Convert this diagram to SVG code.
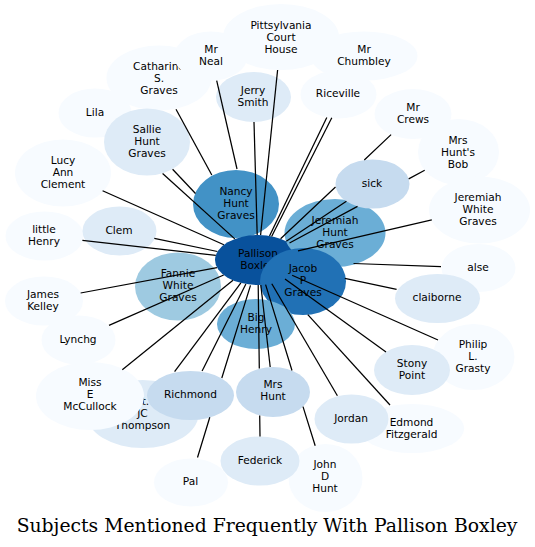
<svg xmlns="http://www.w3.org/2000/svg" width="535" height="547" viewBox="0 0 535 547">
<style>
.c0{fill:#f7fbff}.c1{fill:#deebf7}.c2{fill:#c6dbef}.c3{fill:#9ecae1}.c4{fill:#6baed6}.c5{fill:#4292c6}.c6{fill:#2171b5}.c7{fill:#08519c}
text{font-family:"DejaVu Sans",sans-serif;font-size:10.6px;text-anchor:middle;fill:#000}
.e{stroke:#000;stroke-width:1.25;fill:none}
.title{font-family:"DejaVu Serif",serif;font-size:18.8px}
</style>
<rect width="535" height="547" fill="#fff"/>
<g id="n-pitts"><ellipse class="c0" cx="281" cy="37" rx="58" ry="33"/><text x="281" y="28.8">Pittsylvania</text><text x="281" y="40.8">Court</text><text x="281" y="52.8">House</text></g>
<g id="n-chumbley"><ellipse class="c0" cx="364" cy="56" rx="53.5" ry="24.5"/><text x="364" y="52.8">Mr</text><text x="364" y="64.8">Chumbley</text></g>
<g id="n-riceville"><ellipse class="c0" cx="338.5" cy="94.5" rx="38" ry="24"/><text x="338" y="96.8">Riceville</text></g>
<g id="n-crews"><ellipse class="c0" cx="413" cy="114" rx="38.5" ry="25"/><text x="413" y="110.8">Mr</text><text x="413" y="122.8">Crews</text></g>
<g id="n-bob"><ellipse class="c0" cx="458.5" cy="152" rx="40.5" ry="33"/><text x="458" y="143.8">Mrs</text><text x="458" y="155.8">Hunt's</text><text x="458" y="167.8">Bob</text></g>
<g id="n-jwg"><ellipse class="c0" cx="479.5" cy="210" rx="50.5" ry="33.5"/><text x="478" y="200.8">Jeremiah</text><text x="478" y="212.8">White</text><text x="478" y="224.8">Graves</text></g>
<g id="n-alse"><ellipse class="c0" cx="478.5" cy="268" rx="37" ry="24"/><text x="478" y="270.8">alse</text></g>
<g id="n-philip"><ellipse class="c0" cx="473.5" cy="357" rx="41" ry="33"/><text x="473" y="347.8">Philip</text><text x="473" y="359.8">L.</text><text x="473" y="371.8">Grasty</text></g>
<g id="n-edmond"><ellipse class="c0" cx="412" cy="428.5" rx="52" ry="24.5"/><text x="411.5" y="425.8">Edmond</text><text x="411.5" y="437.8">Fitzgerald</text></g>
<g id="n-john"><ellipse class="c0" cx="325.5" cy="478" rx="37" ry="34"/><text x="325" y="468.3">John</text><text x="325" y="480.3">D</text><text x="325" y="492.3">Hunt</text></g>
<g id="n-pal"><ellipse class="c0" cx="191" cy="482.5" rx="37" ry="24"/><text x="190.5" y="484.8">Pal</text></g>
<g id="n-thompson"><ellipse class="c1" cx="142.5" cy="414" rx="56" ry="34"/><text x="142.5" y="404.8">Lt.</text><text x="142.5" y="416.8">JC</text><text x="142.5" y="428.8">Thompson</text></g>
<g id="n-mccullock"><ellipse class="c0" cx="90" cy="396" rx="54" ry="34"/><text x="90" y="386.3">Miss</text><text x="90" y="398.3">E</text><text x="90" y="410.3">McCullock</text></g>
<g id="n-lynchg"><ellipse class="c0" cx="78.5" cy="340" rx="37" ry="24.5"/><text x="78" y="342.8">Lynchg</text></g>
<g id="n-james"><ellipse class="c0" cx="44" cy="301" rx="39" ry="24.5"/><text x="43" y="297.8">James</text><text x="43" y="309.8">Kelley</text></g>
<g id="n-littlehenry"><ellipse class="c0" cx="44.5" cy="236" rx="39" ry="24.5"/><text x="44" y="232.8">little</text><text x="44" y="244.8">Henry</text></g>
<g id="n-lucy"><ellipse class="c0" cx="63" cy="173" rx="48" ry="33.5"/><text x="63" y="163.8">Lucy</text><text x="63" y="175.8">Ann</text><text x="63" y="187.8">Clement</text></g>
<g id="n-lila"><ellipse class="c0" cx="95" cy="113" rx="36.5" ry="24.5"/><text x="95" y="115.8">Lila</text></g>
<g id="n-catharine"><ellipse class="c0" cx="159" cy="78" rx="52.5" ry="32.5"/><text x="159" y="69.8">Catharine</text><text x="159" y="81.8">S.</text><text x="159" y="93.8">Graves</text></g>
<g id="n-neal"><ellipse class="c0" cx="211" cy="56" rx="36.5" ry="24.5"/><text x="211" y="52.8">Mr</text><text x="211" y="64.8">Neal</text></g>
<g id="n-jerry"><ellipse class="c1" cx="253.5" cy="97" rx="37.5" ry="25"/><text x="253" y="93.8">Jerry</text><text x="253" y="105.8">Smith</text></g>
<g id="n-sallie"><ellipse class="c1" cx="147" cy="142" rx="43" ry="33.5"/><text x="147" y="132.8">Sallie</text><text x="147" y="144.8">Hunt</text><text x="147" y="156.8">Graves</text></g>
<g id="n-clem"><ellipse class="c1" cx="119.5" cy="231" rx="37" ry="24.5"/><text x="119" y="233.8">Clem</text></g>
<g id="n-fannie"><ellipse class="c3" cx="178" cy="286.5" rx="43" ry="34"/><text x="178" y="277.3">Fannie</text><text x="178" y="289.3">White</text><text x="178" y="301.3">Graves</text></g>
<g id="n-nancy"><ellipse class="c5" cx="236" cy="204" rx="43" ry="34"/><text x="236" y="195.3">Nancy</text><text x="236" y="207.3">Hunt</text><text x="236" y="219.3">Graves</text></g>
<g id="n-pallison"><ellipse class="c7" cx="258" cy="260" rx="43" ry="25"/><text x="258" y="257.3">Pallison</text><text x="258" y="269.3">Boxley</text></g>
<g id="n-jhg"><ellipse class="c4" cx="335" cy="233" rx="50.5" ry="34"/><text x="335" y="223.8">Jeremiah</text><text x="335" y="235.8">Hunt</text><text x="335" y="247.8">Graves</text></g>
<g id="n-sick"><ellipse class="c2" cx="372.5" cy="184" rx="37" ry="24.5"/><text x="372" y="186.8">sick</text></g>
<g id="n-jacob"><ellipse class="c6" cx="303" cy="281.5" rx="43" ry="33.5"/><text x="303" y="271.8">Jacob</text><text x="303" y="283.8">P</text><text x="303" y="295.8">Graves</text></g>
<g id="n-bighenry"><ellipse class="c4" cx="256" cy="324" rx="39" ry="25"/><text x="256" y="320.8">Big</text><text x="256" y="332.8">Henry</text></g>
<g id="n-claiborne"><ellipse class="c1" cx="437.5" cy="298.5" rx="42.5" ry="24.5"/><text x="437" y="300.8">claiborne</text></g>
<g id="n-stony"><ellipse class="c1" cx="412" cy="370" rx="38" ry="25"/><text x="412" y="367.1">Stony</text><text x="412" y="379.1">Point</text></g>
<g id="n-jordan"><ellipse class="c1" cx="351.5" cy="419" rx="37" ry="24.5"/><text x="351" y="421.8">Jordan</text></g>
<g id="n-federick"><ellipse class="c1" cx="260" cy="461" rx="39.5" ry="24.5"/><text x="260" y="463.8">Federick</text></g>
<g id="n-mrshunt"><ellipse class="c2" cx="273" cy="392" rx="37" ry="25"/><text x="273" y="387.8">Mrs</text><text x="273" y="399.8">Hunt</text></g>
<g id="n-richmond"><ellipse class="c2" cx="190.5" cy="395.5" rx="43.5" ry="24.5"/><text x="190.5" y="397.8">Richmond</text></g>
<g id="edges">
<path class="e" d="M260.6,235L277.6,70"/>
<path class="e" d="M257.2,235L254,122"/>
<path class="e" d="M269.5,236L326.8,117.5"/>
<path class="e" d="M271.6,236.5L331.8,117.8"/>
<path class="e" d="M216.7,80.7L237,169"/>
<path class="e" d="M176,109.3L211.8,175"/>
<path class="e" d="M172.6,169.3L195.5,193.5"/>
<path class="e" d="M162.6,173.5L234.8,238.9"/>
<path class="e" d="M102.6,190.7L223.9,244.8"/>
<path class="e" d="M154.3,238.4L217.4,251.5"/>
<path class="e" d="M82.4,240.3L215.8,255.3"/>
<path class="e" d="M80.6,293L217,267.6"/>
<path class="e" d="M109,325.4L223.7,275"/>
<path class="e" d="M122.3,369.8L233,280.3"/>
<path class="e" d="M174.6,371.7L240.9,282.9"/>
<path class="e" d="M202.1,371L245.9,284"/>
<path class="e" d="M250.5,285.4L221.8,378M209.8,417.3L197.5,457.5"/>
<path class="e" d="M258.2,285L259.3,368.5M259.7,415.5L260,436.5"/>
<path class="e" d="M260.8,285L270.2,367"/>
<path class="e" d="M265.6,284.6L292,370.5M303,406.6L315.2,445.8"/>
<path class="e" d="M271.8,283.7L337.4,395.8"/>
<path class="e" d="M307.8,314.7L390,405"/>
<path class="e" d="M285,279L386,352"/>
<path class="e" d="M292.1,275.2L438,340"/>
<path class="e" d="M344.8,278.4L396.6,289.4"/>
<path class="e" d="M353.5,263.5L441,266.7"/>
<path class="e" d="M298,250.8L431.8,219.9"/>
<path class="e" d="M289.5,243L357.5,206.4M408.7,178.9L424.7,170.2"/>
<path class="e" d="M286.3,241.2L346.4,201.3"/>
<path class="e" d="M280.6,238.7L335.5,187M364.3,160L391.1,134.6"/>
</g>
<text class="title" x="267" y="532">Subjects Mentioned Frequently With Pallison Boxley</text>
</svg>
